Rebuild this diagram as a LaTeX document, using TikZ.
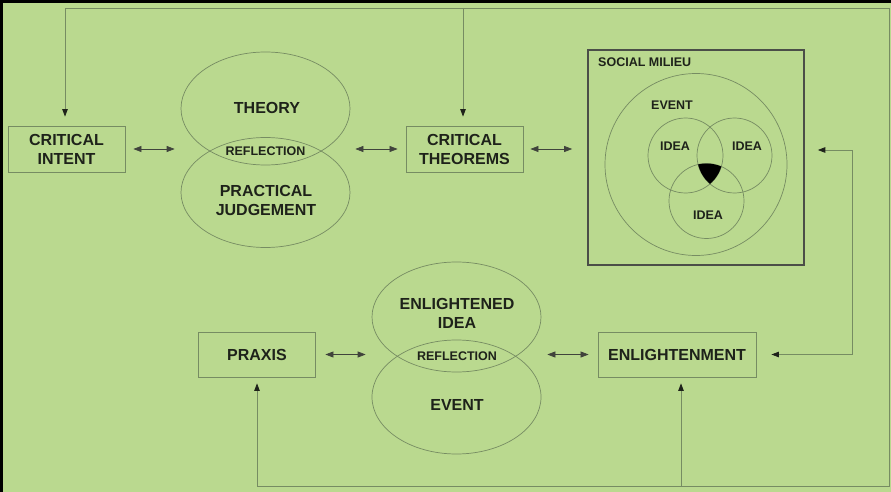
\documentclass[tikz,border=0pt]{standalone}
\usepackage{fontspec}
\setmainfont{Liberation Sans}
\usetikzlibrary{arrows.meta,shapes.geometric}
\definecolor{bg}{RGB}{186,217,143}
\definecolor{ln}{RGB}{118,140,98}
\definecolor{dk}{RGB}{30,34,26}
\begin{document}
\begin{tikzpicture}[x=1pt,y=-1pt,
  big/.style={font=\bfseries\fontsize{16}{19}\selectfont, text=dk, align=center, inner sep=0pt},
  sml/.style={font=\bfseries\fontsize{12.5}{15}\selectfont, text=dk, inner sep=0pt},
  box/.style={draw=ln, line width=0.8pt, inner sep=0pt},
  ell/.style={draw=ln, line width=0.7pt, ellipse, inner sep=0pt},
  circ/.style={draw=ln, line width=0.7pt, circle, inner sep=0pt},
  tp/.tip={Triangle[length=7.5pt,width=5.5pt,color=dk]},
  dbl/.style={{Triangle[length=8pt,width=6pt]}-{Triangle[length=8pt,width=6pt]}, draw=dk!85, line width=0.7pt},
  conn/.style={draw=ln, line width=0.8pt}
]
\useasboundingbox (0,0) rectangle (891,492);
\fill[bg] (0,0) rectangle (891,492);
\draw[black, line width=2.5pt] (1.3,492) -- (1.3,1.3) -- (891,1.3);

% boxes
\node[box, minimum width=117pt, minimum height=46pt] (ci) at (66.5,149) {};
\node[big] (citxt) at (66.5,149.5) {CRITICAL\\INTENT};
\node[box, minimum width=117pt, minimum height=46pt] (ct) at (464.5,149) {};
\node[big] (cttxt) at (464.5,149.5) {CRITICAL\\THEOREMS};
\node[box, minimum width=117pt, minimum height=45pt] (praxis) at (256.5,354.5) {};
\node[big] (prtxt) at (257,354.5) {PRAXIS};
\node[box, minimum width=158pt, minimum height=45pt] (enl) at (677,354.5) {};
\node[big] (entxt) at (677,354.5) {ENLIGHTENMENT};

% upper ellipse pair
\node[ell, minimum width=169pt, minimum height=113pt] (theory) at (265.5,108.5) {};
\node[ell, minimum width=169pt, minimum height=110pt] (prac) at (265.5,192.5) {};
\node[big] (thtxt) at (267,108) {THEORY};
\node[sml] (refa) at (265.5,151) {REFLECTION};
\node[big] (prtx) at (266,200.5) {PRACTICAL\\JUDGEMENT};

% lower ellipse pair
\node[ell, minimum width=169pt, minimum height=110pt] (enli) at (456.5,317) {};
\node[ell, minimum width=169pt, minimum height=114pt] (evt) at (456.5,397) {};
\node[big] (enlitxt) at (457,313) {ENLIGHTENED\\IDEA};
\node[sml] (refb) at (457,356) {REFLECTION};
\node[big] (evttxt) at (457,405) {EVENT};

% social milieu
\node[draw=dk!80, line width=1.6pt, minimum width=216pt, minimum height=215pt, inner sep=0pt] (sm) at (696,157.5) {};
\node[sml, anchor=west] (smt) at (598,62) {SOCIAL MILIEU};
\node[circ, minimum size=182pt] (ev) at (696,164.5) {};
\node[sml] (evt2) at (672,105) {EVENT};
\node[circ, minimum size=75pt] (iL) at (685.5,155.5) {};
\node[circ, minimum size=75pt] (iR) at (734.5,155.5) {};
\node[circ, minimum size=75pt] (iB) at (706.5,201) {};
\begin{scope}
  \clip (iL.center) circle (37.5);
  \clip (iR.center) circle (37.5);
  \fill[black] (iB.center) circle (37.5);
\end{scope}
\node[sml] (idL) at (675,146) {IDEA};
\node[sml] (idR) at (747,146) {IDEA};
\node[sml] (idB) at (708,215) {IDEA};

% double arrows
\draw[dbl] ([xshift=8pt]ci.east) -- ([xshift=-6pt]theory.west |- ci.east);
\draw[dbl] ([xshift=5pt]theory.east |- ct.west) -- ([xshift=-8pt]ct.west);
\draw[dbl] ([xshift=7pt]ct.east) -- ([xshift=-15pt]sm.west |- ct.east);
\draw[dbl] ([xshift=10pt]praxis.east) -- ([xshift=-6pt]enli.west |- praxis.east);
\draw[dbl] ([xshift=6pt]enli.east |- enl.west) -- ([xshift=-9pt]enl.west);

% long connectors
\coordinate (tl) at (65,8);
\coordinate (tm) at (463,8);
\coordinate (tr) at (889,8);
\coordinate (br) at (889,486);
\coordinate (bm) at (681,486);
\coordinate (bl) at (257,486);
\coordinate (rc) at (852,150);
\draw[conn, -tp, shorten >=9pt] (tr) -- (tl) -- (tl |- ci.north);
\draw[conn, -tp, shorten >=9pt] (tm) -- (tm |- ct.north);
\draw[conn, -tp, shorten >=6pt] (tr) -- (br) -- (bl) -- (bl |- praxis.south);
\draw[conn, -tp, shorten >=6pt] (bm) -- (bm |- enl.south);
\draw[conn, tp-tp] ([xshift=13pt]sm.east |- rc) -- (rc) |- ([xshift=15pt]enl.east);
\end{tikzpicture}
\end{document}
